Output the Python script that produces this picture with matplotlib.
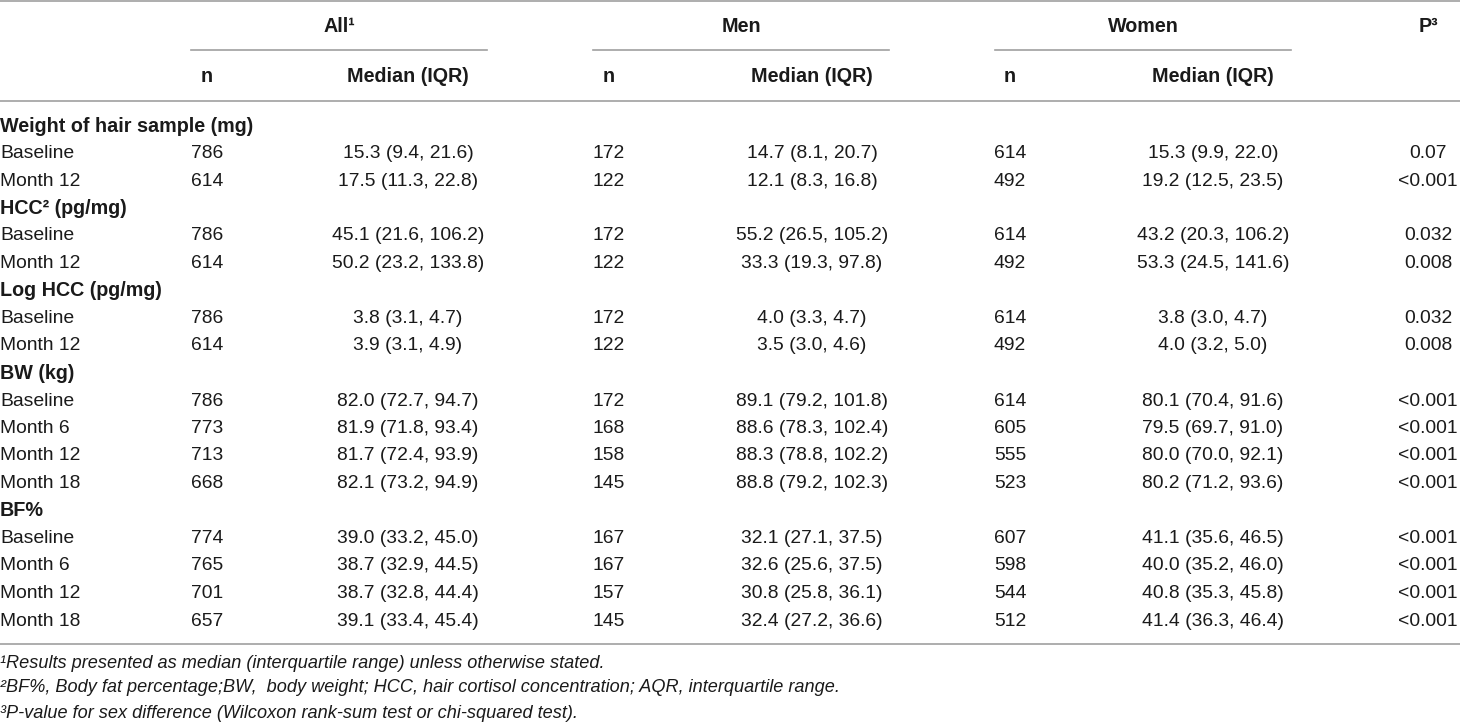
import matplotlib.pyplot as plt
from matplotlib import font_manager

# Datos de la tabla
groups = ["All¹", "Men", "Women"]
sections = [
    ("Weight of hair sample (mg)", ["Baseline", "Month 12"]),
    ("HCC² (pg/mg)", ["Baseline", "Month 12"]),
    ("Log HCC (pg/mg)", ["Baseline", "Month 12"]),
    ("BW (kg)", ["Baseline", "Month 6", "Month 12", "Month 18"]),
    ("BF%", ["Baseline", "Month 6", "Month 12", "Month 18"]),
]
n_all = [786, 614, 786, 614, 786, 614, 786, 773, 713, 668, 774, 765, 701, 657]
med_all = ["15.3 (9.4, 21.6)", "17.5 (11.3, 22.8)", "45.1 (21.6, 106.2)", "50.2 (23.2, 133.8)",
           "3.8 (3.1, 4.7)", "3.9 (3.1, 4.9)", "82.0 (72.7, 94.7)", "81.9 (71.8, 93.4)",
           "81.7 (72.4, 93.9)", "82.1 (73.2, 94.9)", "39.0 (33.2, 45.0)", "38.7 (32.9, 44.5)",
           "38.7 (32.8, 44.4)", "39.1 (33.4, 45.4)"]
n_men = [172, 122, 172, 122, 172, 122, 172, 168, 158, 145, 167, 167, 157, 145]
med_men = ["14.7 (8.1, 20.7)", "12.1 (8.3, 16.8)", "55.2 (26.5, 105.2)", "33.3 (19.3, 97.8)",
           "4.0 (3.3, 4.7)", "3.5 (3.0, 4.6)", "89.1 (79.2, 101.8)", "88.6 (78.3, 102.4)",
           "88.3 (78.8, 102.2)", "88.8 (79.2, 102.3)", "32.1 (27.1, 37.5)", "32.6 (25.6, 37.5)",
           "30.8 (25.8, 36.1)", "32.4 (27.2, 36.6)"]
n_women = [614, 492, 614, 492, 614, 492, 614, 605, 555, 523, 607, 598, 544, 512]
med_women = ["15.3 (9.9, 22.0)", "19.2 (12.5, 23.5)", "43.2 (20.3, 106.2)", "53.3 (24.5, 141.6)",
             "3.8 (3.0, 4.7)", "4.0 (3.2, 5.0)", "80.1 (70.4, 91.6)", "79.5 (69.7, 91.0)",
             "80.0 (70.0, 92.1)", "80.2 (71.2, 93.6)", "41.1 (35.6, 46.5)", "40.0 (35.2, 46.0)",
             "40.8 (35.3, 45.8)", "41.4 (36.3, 46.4)"]
p_vals = ["0.07", "<0.001", "0.032", "0.008", "0.032", "0.008", "<0.001", "<0.001",
          "<0.001", "<0.001", "<0.001", "<0.001", "<0.001", "<0.001"]
footnotes = [
    "¹Results presented as median (interquartile range) unless otherwise stated.",
    "²BF%, Body fat percentage;BW,  body weight; HCC, hair cortisol concentration; AQR, interquartile range.",
    "³P-value for sex difference (Wilcoxon rank-sum test or chi-squared test).",
]

# Fuente estrecha si existe
names = {f.name for f in font_manager.fontManager.ttflist}
family = ["Liberation Sans Narrow", "Liberation Sans", "DejaVu Sans"]
family = [f for f in family if f in names] or ["DejaVu Sans"]
plt.rcParams['font.family'] = family
fs = 13.9
fsb = 14.2

fig = plt.figure(figsize=(14.6, 7.27), dpi=100)
ax = fig.add_axes([0, 0, 1, 1])
ax.set_xlim(0, 1460)
ax.set_ylim(727, 0)
ax.axis('off')

line_col = '#a0a0a0'
ax.plot([0, 1460], [1, 1], color=line_col, lw=1.2)
ax.plot([0, 1460], [101, 101], color=line_col, lw=1.2)
ax.plot([0, 1460], [644, 644], color=line_col, lw=1.2)

# Columnas: (centro n, centro mediana, linea de grupo)
cols = [(207, 408, (191, 487)), (609, 812, (593, 889)), (1010, 1213, (995, 1291))]
p_x = 1428
txt = '#1a1a1a'

for g, (xn, xm, (l0, l1)) in zip(groups, cols):
    ax.text((l0 + l1) / 2, 26, g, ha='center', va='center', fontsize=fsb, fontweight='bold', color=txt)
    ax.plot([l0, l1], [50, 50], color=line_col, lw=1.2)
    ax.text(xn, 77, "n", ha='center', va='center', fontsize=fsb, fontweight='bold', color=txt)
    ax.text(xm, 77, "Median (IQR)", ha='center', va='center', fontsize=fsb, fontweight='bold', color=txt)
ax.text(p_x, 26, "P³", ha='center', va='center', fontsize=fsb, fontweight='bold', color=txt)

y = 126
step = 27.5
k = 0
for title, rows in sections:
    ax.text(0, y, title, ha='left', va='center', fontsize=fsb, fontweight='bold', color=txt)
    y += step
    for r in rows:
        ax.text(0, y, r, ha='left', va='center', fontsize=fs, color=txt)
        vals = [(n_all[k], med_all[k]), (n_men[k], med_men[k]), (n_women[k], med_women[k])]
        for (xn, xm, _), (nv, mv) in zip(cols, vals):
            ax.text(xn, y, str(nv), ha='center', va='center', fontsize=fs, color=txt)
            ax.text(xm, y, mv, ha='center', va='center', fontsize=fs, color=txt)
        ax.text(p_x, y, p_vals[k], ha='center', va='center', fontsize=fs, color=txt)
        y += step
        k += 1

for i, f in enumerate(footnotes):
    ax.text(0, 663 + 25 * i, f, ha='left', va='center', fontsize=13.1, style='italic', color=txt)

fig.savefig("out.png", dpi=100)
